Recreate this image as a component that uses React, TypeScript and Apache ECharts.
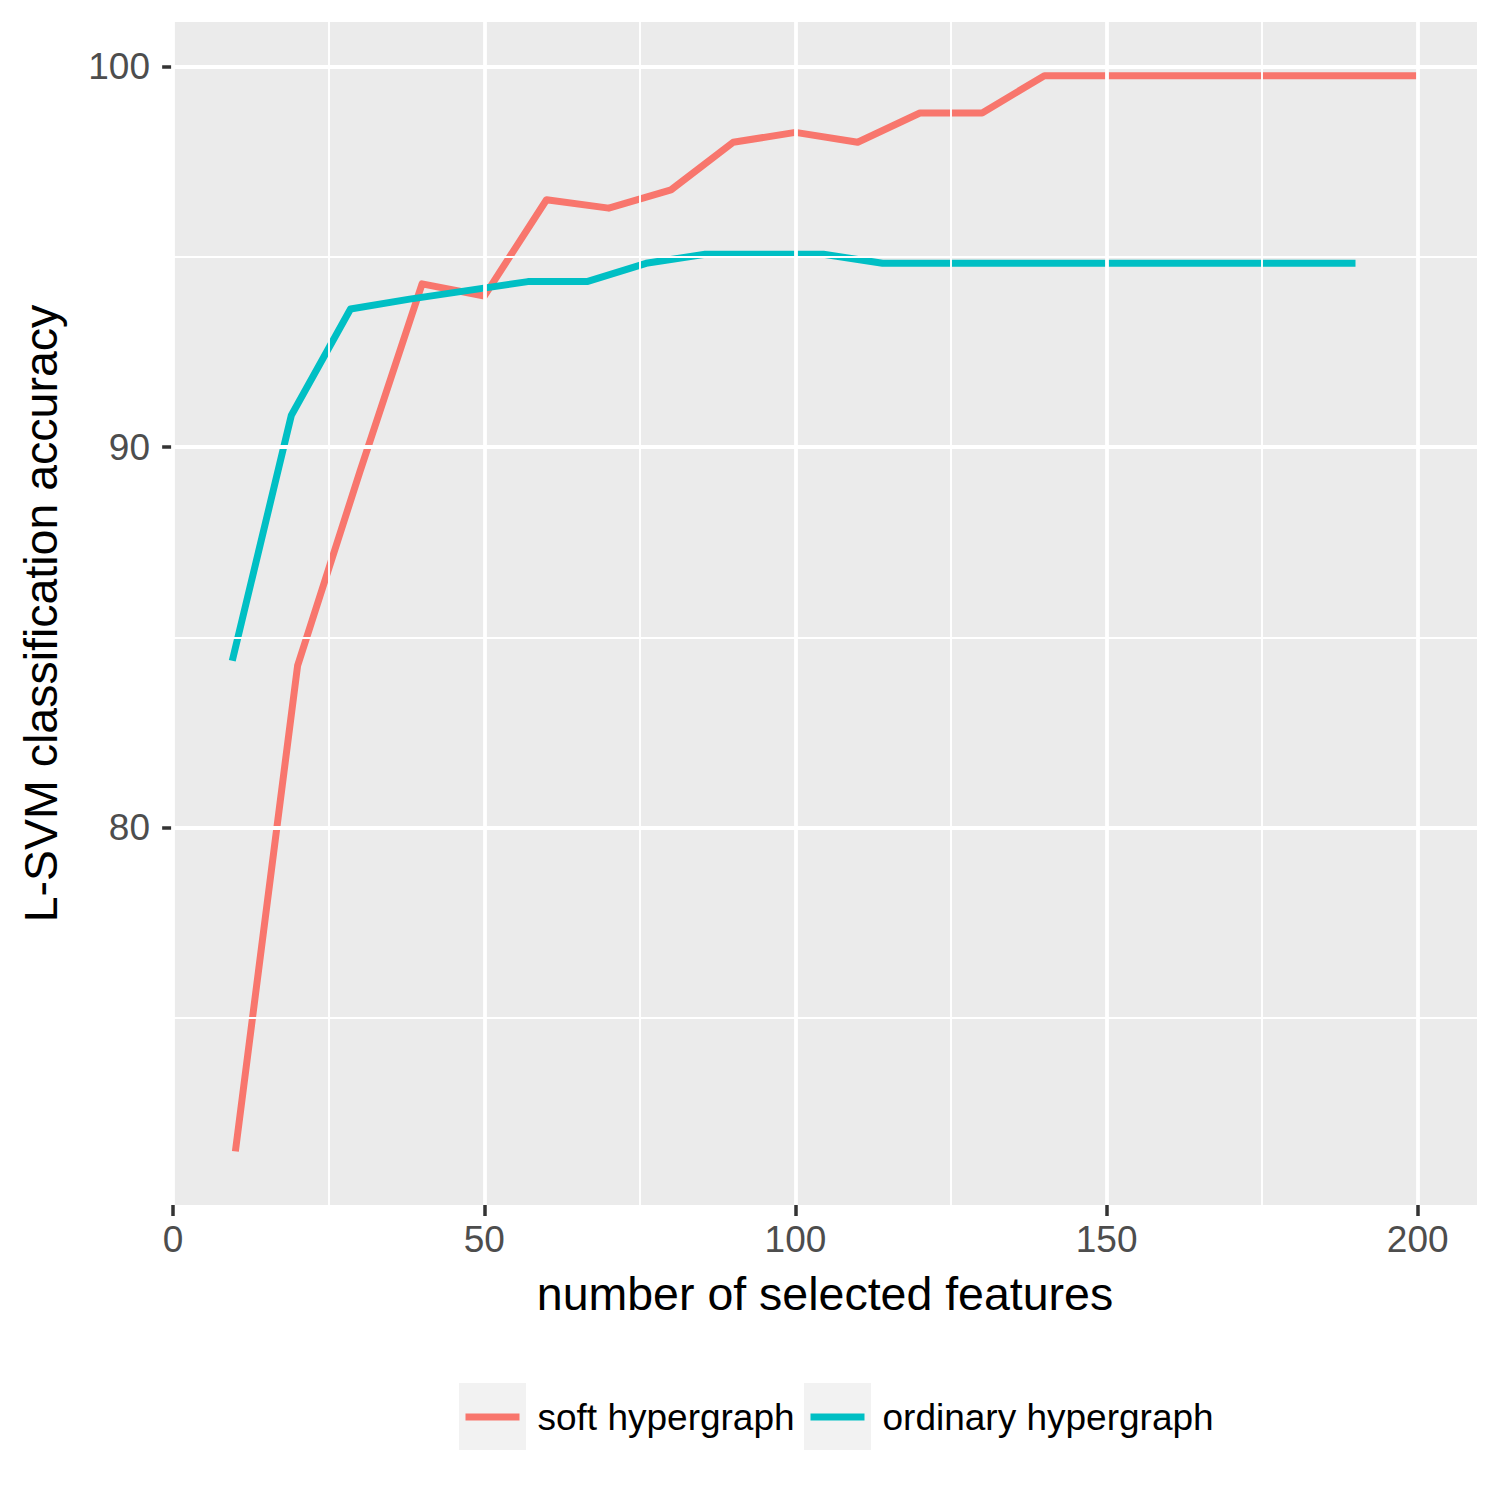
import React, { useEffect, useRef } from 'react';
import * as echarts from 'echarts';

const seriesNames = ['soft hypergraph', 'ordinary hypergraph'];
const seriesColors = ['#F8766D', '#00BFC4'];

const softX = [10, 20, 30, 40, 50, 60, 70, 80, 90, 100, 110, 120, 130, 140, 150, 160, 170, 180, 190, 200];
const softY = [71.5, 84.26, 89.35, 94.29, 93.97, 96.5, 96.28, 96.76, 98.01, 98.27, 98.01, 98.78, 98.78, 99.76, 99.76, 99.76, 99.76, 99.76, 99.76, 99.76];

const ordX = [9.5, 19, 28.5, 38, 47.5, 57, 66.5, 76, 85.5, 95, 104.5, 114, 123.5, 133, 142.5, 152, 161.5, 171, 180.5, 190];
const ordY = [84.39, 90.84, 93.63, 93.89, 94.12, 94.35, 94.35, 94.83, 95.07, 95.07, 95.07, 94.83, 94.83, 94.83, 94.83, 94.83, 94.83, 94.83, 94.83, 94.83];

const xTicks = [0, 50, 100, 150, 200];
const xMinor = [25, 75, 125, 175];
const yTicks = [80, 90, 100];
const yMinor = [75, 85, 95];

const xTitle = 'number of selected features';
const yTitle = 'L-SVM classification accuracy';

export default function App() {
  const ref = useRef<HTMLDivElement>(null);

  useEffect(() => {
    if (!ref.current) return;
    const chart = echarts.init(ref.current, null, { renderer: 'svg' });
    const font = '"Liberation Sans", Arial, Helvetica, sans-serif';

    const gridLines: any[] = [
      ...yMinor.map((v) => ({ yAxis: v, lineStyle: { width: 1.9 } })),
      ...xMinor.map((v) => ({ xAxis: v, lineStyle: { width: 1.9 } })),
      ...yTicks.map((v) => ({ yAxis: v, lineStyle: { width: 3.8 } })),
      ...xTicks.map((v) => ({ xAxis: v, lineStyle: { width: 3.8 } })),
    ];

    const legendCommon = {
      icon: 'rect',
      itemWidth: 54,
      itemHeight: 7,
      padding: 0,
      top: 1397,
      selectedMode: false,
      textStyle: {
        fontFamily: font,
        fontSize: 37,
        color: '#000000',
        lineHeight: 40,
        padding: [0, 0, 0, 13],
      },
    };

    chart.setOption({
      animation: false,
      backgroundColor: '#FFFFFF',
      grid: {
        left: 173,
        right: 23,
        top: 22,
        bottom: 295,
        show: true,
        backgroundColor: '#EBEBEB',
        borderWidth: 0,
        containLabel: false,
        outerBoundsMode: 'none',
      },
      graphic: [
        { type: 'rect', silent: true, z: 0, shape: { x: 459, y: 1383, width: 67, height: 67 }, style: { fill: '#F2F2F2' } },
        { type: 'rect', silent: true, z: 0, shape: { x: 804, y: 1383, width: 67, height: 67 }, style: { fill: '#F2F2F2' } },
      ],
      legend: [
        { ...legendCommon, data: [seriesNames[0]], left: 465.5 },
        { ...legendCommon, data: [seriesNames[1]], left: 810.5 },
      ],
      xAxis: {
        type: 'value',
        min: -0.025,
        max: 209.525,
        axisLine: { show: false },
        splitLine: { show: false },
        axisTick: {
          show: true,
          length: 11,
          customValues: xTicks,
          lineStyle: { color: '#333333', width: 3.5 },
        },
        axisLabel: {
          customValues: xTicks,
          margin: 16,
          fontFamily: font,
          fontSize: 37,
          color: '#4D4D4D',
        },
        name: xTitle,
        nameLocation: 'middle',
        nameGap: 65,
        nameTextStyle: { fontFamily: font, fontSize: 46.5, color: '#000000' },
      },
      yAxis: {
        type: 'value',
        min: 70.09,
        max: 101.17,
        axisLine: { show: false },
        splitLine: { show: false },
        axisTick: {
          show: true,
          length: 11,
          customValues: yTicks,
          lineStyle: { color: '#333333', width: 3.5 },
        },
        axisLabel: {
          customValues: yTicks,
          margin: 23,
          fontFamily: font,
          fontSize: 37,
          color: '#4D4D4D',
        },
        name: yTitle,
        nameLocation: 'middle',
        nameGap: 109,
        nameRotate: 90,
        nameTextStyle: { fontFamily: font, fontSize: 46.5, color: '#000000' },
      },
      series: [
        {
          type: 'line',
          name: '__grid',
          data: [],
          z: 1,
          silent: true,
          markLine: {
            silent: true,
            animation: false,
            symbol: ['none', 'none'],
            label: { show: false },
            emphasis: { disabled: true },
            lineStyle: { color: '#FFFFFF', type: 'solid', width: 3.8 },
            data: gridLines,
          },
        },
        {
          type: 'line',
          name: seriesNames[0],
          data: softX.map((x, i) => [x, softY[i]]),
          showSymbol: false,
          symbol: 'none',
          z: 3,
          lineStyle: { color: seriesColors[0], width: 7, join: 'round', cap: 'butt' },
          itemStyle: { color: seriesColors[0] },
        },
        {
          type: 'line',
          name: seriesNames[1],
          data: ordX.map((x, i) => [x, ordY[i]]),
          showSymbol: false,
          symbol: 'none',
          z: 3,
          lineStyle: { color: seriesColors[1], width: 7, join: 'round', cap: 'butt' },
          itemStyle: { color: seriesColors[1] },
        },
      ],
    });

    return () => {
      chart.dispose();
    };
  }, []);

  return (
    <div
      ref={ref}
      style={{ position: 'absolute', left: 0, top: 0, width: 1500, height: 1500 }}
    />
  );
}
